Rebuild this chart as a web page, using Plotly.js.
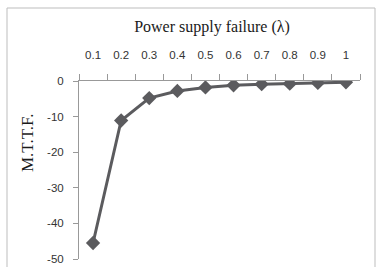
<!DOCTYPE html>
<html><head><meta charset="utf-8">
<script src="https://cdn.plot.ly/plotly-3.0.1.min.js"></script>
<style>html,body{margin:0;padding:0;background:#fff}#c{width:381px;height:267px}</style>
</head><body><div id="c"></div>
<script>
const categories = ["0.1","0.2","0.3","0.4","0.5","0.6","0.7","0.8","0.9","1"];
const mttf = [-45.5, -11.1, -4.8, -2.8, -1.8, -1.2, -0.9, -0.75, -0.55, -0.35];
const yTicks = [0, -10, -20, -30, -40, -50];

const W = 381, H = 267;
const L = 79, R = 21, T = 81, B = 8;
const pw = W - L - R, ph = H - T - B;
function px(x){ return (x - L) / pw; }
function py(y){ return 1 - (y - T) / ph; }

const trace = {
  x: categories, y: mttf, type: 'scatter', mode: 'lines+markers',
  line: {color: '#5b5b5e', width: 3},
  marker: {symbol: 'diamond', size: 11, color: '#5b5b5e'},
  hoverinfo: 'skip'
};
const layout = {
  width: W, height: H,
  margin: {l: L, r: R, t: T, b: B},
  paper_bgcolor: '#fff', plot_bgcolor: '#fff',
  showlegend: false,
  title: {text: 'Power supply failure (λ)', x: 212/W, xanchor: 'center', xref: 'container',
          y: 1 - 26/H, yanchor: 'middle', yref: 'container',
          font: {family: 'Liberation Serif', size: 16, color: '#1a1a1a'}},
  xaxis: {type: 'category', side: 'top', range: [-0.5, 9.5], tickson: 'boundaries',
          ticks: 'outside', ticklen: 6, tickcolor: '#999', showline: true, linecolor: '#999',
          linewidth: 1, showgrid: false, zeroline: false, ticklabelstandoff: 16,
          tickfont: {family: 'Liberation Sans', size: 11.5, color: '#333'}, fixedrange: true},
  yaxis: {range: [-50, 0], tickvals: yTicks, ticktext: yTicks.map(String),
          ticks: 'outside', ticklen: 5, tickcolor: '#999', showline: true, linecolor: '#999',
          linewidth: 1, showgrid: false, zeroline: false, automargin: false, ticklabelstandoff: 7,
          tickfont: {family: 'Liberation Sans', size: 11.5, color: '#333'},
          fixedrange: true},
  annotations: [{text: 'M.T.T.F.', xref: 'paper', yref: 'paper', x: px(27), y: py(143),
                 xanchor: 'center', yanchor: 'middle', textangle: -90, showarrow: false,
                 font: {family: 'Liberation Serif', size: 17, color: '#1a1a1a'}}],
  shapes: [{type: 'rect', xref: 'paper', yref: 'paper', layer: 'below',
            x0: px(7), x1: px(375), y0: py(280), y1: py(8),
            line: {color: '#bdbdbd', width: 1}}]
};
Plotly.newPlot('c', [trace], layout, {staticPlot: true, displayModeBar: false});
</script></body></html>
